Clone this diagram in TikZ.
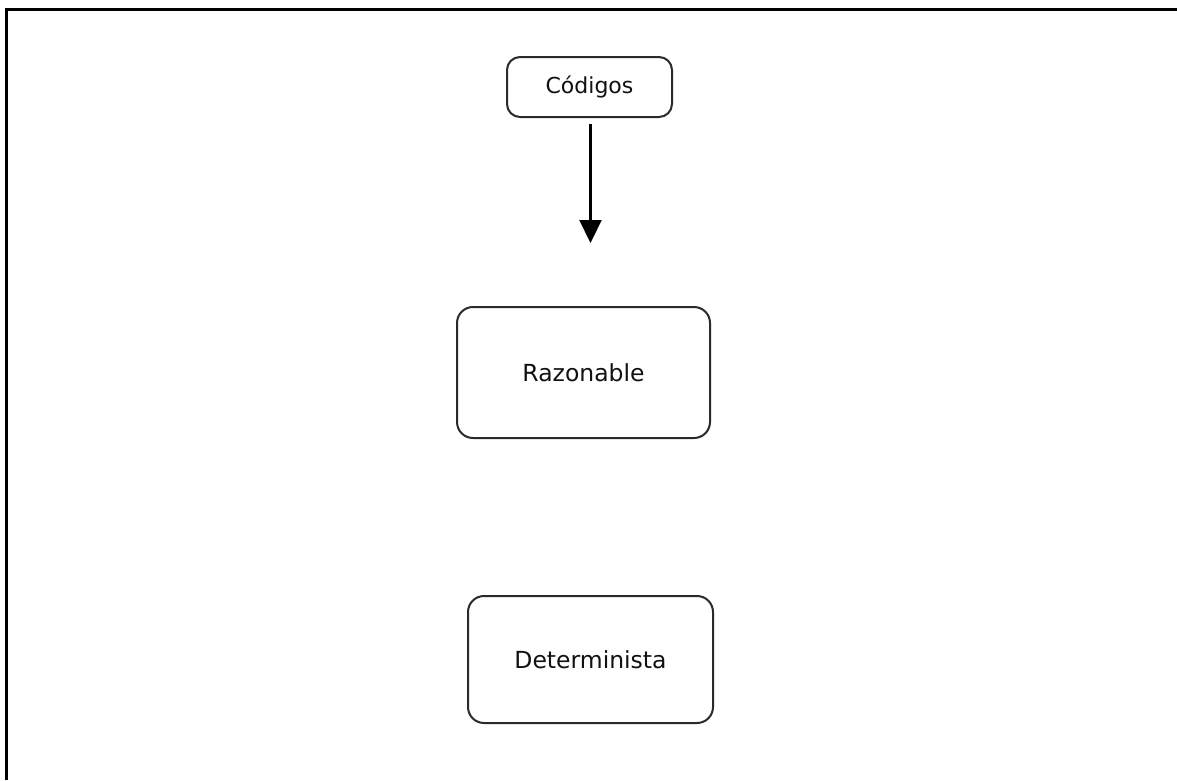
\documentclass[tikz,border=0pt]{standalone}
\usepackage{fontspec}
\setmainfont{DejaVu Sans}
\usetikzlibrary{arrows.meta}
\definecolor{ink}{HTML}{111111}
\definecolor{edge}{HTML}{2A2A2A}
\tikzset{
  box/.style={draw=edge, line width=2pt, rounded corners=13pt, fill=white,
              text=ink, inner sep=0pt, align=center},
  link/.style={draw=black, line width=2.2pt,
               -{Triangle[length=23pt,width=22pt]}},
  frameline/.style={draw=black, line width=3pt}
}
\begin{document}
\begin{tikzpicture}[x=1pt,y=-1pt]
  \useasboundingbox (0,0) rectangle (1177,780);
  % open frame: top and left edges only
  \draw[frameline] (6,780) -- (6,9) -- (1177,9);

  \node[box, minimum width=165pt, minimum height=60pt, font=\fontsize{22}{26}\selectfont]
    (cod) at (589.5,87) {Códigos};
  \node[box, minimum width=253pt, minimum height=131pt, rounded corners=16pt,
        font=\fontsize{23.5}{28}\selectfont]
    (raz) at (583.5,372.5) {Razonable};
  \node[box, minimum width=245pt, minimum height=127pt, rounded corners=16pt,
        font=\fontsize{23.5}{28}\selectfont]
    (det) at (590.5,659.5) {Determinista};

  \coordinate (tip) at (590.5,243);
  \draw[link, shorten <=6pt] (cod.south -| tip) -- (tip);
\end{tikzpicture}
\end{document}
